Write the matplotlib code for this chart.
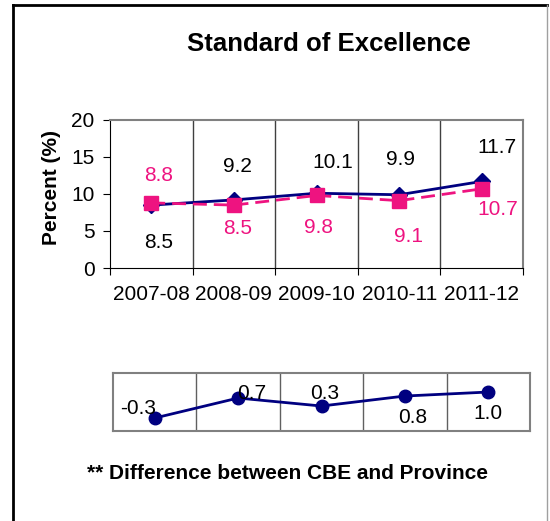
import numpy as np
import matplotlib
matplotlib.use('Agg')
import matplotlib.pyplot as plt
from matplotlib.lines import Line2D

plt.rcParams['font.family'] = ['Liberation Sans', 'DejaVu Sans']

years = ['2007-08', '2008-09', '2009-10', '2010-11', '2011-12']
cbe = [8.5, 9.2, 10.1, 9.9, 11.7]
province = [8.8, 8.5, 9.8, 9.1, 10.7]
difference = [-0.3, 0.7, 0.3, 0.8, 1.0]

navy = '#000080'
pink = '#EE1380'
x = np.arange(len(years))

fig = plt.figure(figsize=(5.5, 5.21), dpi=100)

# outer frame
fig.add_artist(Line2D([0.024, 0.024], [-0.01, 0.990], color='black', lw=2, transform=fig.transFigure))
fig.add_artist(Line2D([0.024, 0.995], [0.990, 0.990], color='black', lw=2, transform=fig.transFigure))
fig.add_artist(Line2D([0.995, 0.995], [-0.01, 0.990], color='#a0a0a0', lw=1, transform=fig.transFigure))

fig.text(0.598, 0.915, 'Standard of Excellence', ha='center', va='center',
         fontsize=18.5, fontweight='bold')

# main chart
ax = fig.add_axes([0.2, 0.4856, 0.751, 0.2841])
ax.plot(x, cbe, color=navy, lw=2, marker='D', markersize=8, zorder=3)
ax.plot(x, province, color=pink, lw=2, ls=(0, (5, 2.5)), marker='s', markersize=10, zorder=4)
ax.set_xlim(-0.5, 4.5)
ax.set_ylim(0, 20)
ax.set_yticks([0, 5, 10, 15, 20])
ax.set_xticks(np.arange(-0.5, 5, 1))
ax.set_xticklabels([])
ax.set_xticks(x, minor=True)
ax.set_xticklabels(years, minor=True)
ax.tick_params(axis='x', which='minor', length=0, labelsize=15, pad=12)
ax.tick_params(axis='x', which='major', length=5, direction='out')
ax.tick_params(axis='y', length=5, labelsize=15, pad=6)
for b in np.arange(0.5, 4, 1):
    ax.axvline(b, color='#404040', lw=1, zorder=1)
ax.spines['top'].set_color('#808080')
ax.spines['right'].set_color('#808080')
ax.spines['top'].set_linewidth(1.5)
ax.spines['right'].set_linewidth(1.5)
ax.set_ylabel('Percent (%)', fontsize=15, fontweight='bold')
ax.yaxis.set_label_coords(-0.118, 0.547)

cbe_off = [(7, -37), (4, 33), (16, 31), (1, 35), (15, 34)]
prov_off = [(7, 27), (4, -23), (2, -32), (9, -36), (16, -21)]
for i in range(len(years)):
    dx, dy = cbe_off[i]
    ax.annotate('%.1f' % cbe[i], (x[i], cbe[i]), xytext=(dx * 0.72, dy * 0.72),
                textcoords='offset points', ha='center', va='center', fontsize=15, color='black')
    dx, dy = prov_off[i]
    ax.annotate('%.1f' % province[i], (x[i], province[i]), xytext=(dx * 0.72, dy * 0.72),
                textcoords='offset points', ha='center', va='center', fontsize=15, color=pink)

# difference chart
ax2 = fig.add_axes([0.2055, 0.1727, 0.7581, 0.1113])
ax2.plot(x, difference, color=navy, lw=2, marker='o', markersize=9, zorder=3)
ax2.set_xlim(-0.5, 4.5)
ax2.set_ylim(-0.95, 1.95)
ax2.set_xticks([])
ax2.set_yticks([])
for b in np.arange(0.5, 4, 1):
    ax2.axvline(b, color='#606060', lw=1, zorder=1)
for s in ax2.spines.values():
    s.set_color('#808080')
    s.set_linewidth(1.5)

diff_off = [(-17, 10), (14, 5), (3, 13), (8, -21), (0, -21)]
for i in range(len(years)):
    dx, dy = diff_off[i]
    ax2.annotate('%.1f' % difference[i], (x[i], difference[i]), xytext=(dx * 0.72, dy * 0.72),
                 textcoords='offset points', ha='center', va='center', fontsize=15, color='black')

fig.text(0.523, 0.092, '** Difference between CBE and Province', ha='center', va='center',
         fontsize=15, fontweight='bold')

fig.savefig('out.png', dpi=100)
